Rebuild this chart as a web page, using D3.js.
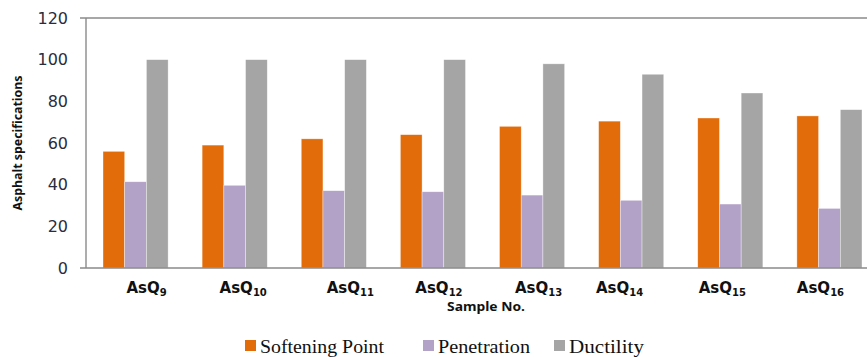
<!DOCTYPE html>
<html>
<head>
<meta charset="utf-8">
<script src="https://cdn.jsdelivr.net/npm/d3@7"></script>
<style>
  html, body { margin: 0; padding: 0; background: #fff; }
  svg { display: block; }
</style>
</head>
<body>
<div id="chart"></div>
<script>
// Asphalt specifications per sample
const samplePrefix = "AsQ";
const sampleIds = [9, 10, 11, 12, 13, 14, 15, 16];
const seriesNames = ["Softening Point", "Penetration", "Ductility"];
const softeningPoint = [56, 59, 62, 64, 68, 70.5, 72, 73];
const penetration = [41.4, 39.7, 37.1, 36.6, 35, 32.5, 30.7, 28.6];
const ductility = [100, 100, 100, 100, 98, 93, 84, 76];
const yTicks = [0, 20, 40, 60, 80, 100, 120];

const colors = ["#E36C0A", "#B3A2C7", "#A5A5A5"];
// hand-placed category labels sit slightly off their group centres
const labelNudge = [11, 8.5, 16.5, 6, 6.5, -11.7, -8, -9];

const W = 867, H = 357;
const plot = { left: 86, right: 879, top: 18, bottom: 268 };

const svg = d3.select("#chart").append("svg")
  .attr("width", W).attr("height", H);

const rows = sampleIds.map((id, i) => ({
  id,
  values: [softeningPoint[i], penetration[i], ductility[i]]
}));

const x0 = d3.scaleBand()
  .domain(sampleIds)
  .range([plot.left, plot.right])
  .paddingInner(0.343)
  .paddingOuter(0.1715);

const x1 = d3.scaleBand()
  .domain(d3.range(seriesNames.length))
  .range([0, x0.bandwidth()]);

const y = d3.scaleLinear().domain([0, 120]).range([plot.bottom, plot.top]);

// bars
const groups = svg.append("g").selectAll("g")
  .data(rows).join("g")
  .attr("transform", d => `translate(${x0(d.id)},0)`);

groups.selectAll("rect")
  .data(d => d.values.map((v, k) => ({ v, k })))
  .join("rect")
  .attr("x", d => x1(d.k))
  .attr("width", x1.bandwidth())
  .attr("y", d => y(d.v))
  .attr("height", d => y(0) - y(d.v))
  .attr("fill", d => colors[d.k])
  .attr("stroke", "rgba(255,255,255,0.6)")
  .attr("stroke-width", 0.6);

// frame lines: top border, left axis, baseline
const lineColor = "#8a8a8a";
svg.append("line")
  .attr("x1", 80).attr("x2", W).attr("y1", y(120)).attr("y2", y(120))
  .attr("stroke", lineColor).attr("stroke-width", 1.6);
svg.append("line")
  .attr("x1", 80).attr("x2", W).attr("y1", y(0)).attr("y2", y(0))
  .attr("stroke", lineColor).attr("stroke-width", 1.6);
svg.append("line")
  .attr("x1", plot.left).attr("x2", plot.left).attr("y1", y(120)).attr("y2", y(0))
  .attr("stroke", lineColor).attr("stroke-width", 1.4);

// y axis labels
const yAxis = d3.axisLeft(y).tickValues(yTicks).tickSize(0).tickPadding(18);
const ya = svg.append("g").attr("transform", `translate(${plot.left},0)`).call(yAxis);
ya.select(".domain").remove();
ya.selectAll("text")
  .attr("font-family", "DejaVu Sans, Verdana, sans-serif")
  .attr("font-size", 16)
  .attr("fill", "#2a2d3e");

// y axis title
svg.append("text")
  .attr("transform", "translate(22,143) rotate(-90)")
  .attr("text-anchor", "middle")
  .attr("font-family", "Noto Sans, Open Sans, sans-serif")
  .attr("font-weight", "bold")
  .attr("font-size", 12)
  .attr("textLength", 135)
  .attr("lengthAdjust", "spacingAndGlyphs")
  .attr("fill", "#111")
  .text("Asphalt specifications");

// category labels with subscript sample numbers
const catLabels = svg.append("g").selectAll("text")
  .data(rows).join("text")
  .attr("x", (d, i) => x0(d.id) + x0.bandwidth() / 2 + labelNudge[i])
  .attr("y", 293)
  .attr("text-anchor", "middle")
  .attr("font-family", "DejaVu Sans, Verdana, sans-serif")
  .attr("font-weight", "bold")
  .attr("font-size", 15)
  .attr("fill", "#111");
catLabels.append("tspan").text(samplePrefix);
catLabels.append("tspan")
  .attr("font-size", 10)
  .attr("dy", 3)
  .text(d => d.id);

// x axis title
svg.append("text")
  .attr("x", 486).attr("y", 311)
  .attr("text-anchor", "middle")
  .attr("font-family", "Noto Sans, Open Sans, sans-serif")
  .attr("font-weight", "bold")
  .attr("font-size", 13)
  .attr("textLength", 78)
  .attr("lengthAdjust", "spacingAndGlyphs")
  .attr("fill", "#111")
  .text("Sample No.");

// legend
const legendX = [245, 423, 554];
const legendTextLen = [124, 92, 75];
const legend = svg.append("g").selectAll("g")
  .data(seriesNames).join("g")
  .attr("transform", (d, i) => `translate(${legendX[i]},340)`);
legend.append("rect")
  .attr("width", 11).attr("height", 11)
  .attr("fill", (d, i) => colors[i]);
legend.append("text")
  .attr("x", 15).attr("y", 13)
  .attr("font-family", "Liberation Serif, Times New Roman, serif")
  .attr("font-size", 19)
  .attr("textLength", (d, i) => legendTextLen[i])
  .attr("lengthAdjust", "spacingAndGlyphs")
  .attr("fill", "#111")
  .text(d => d);
</script>
</body>
</html>
